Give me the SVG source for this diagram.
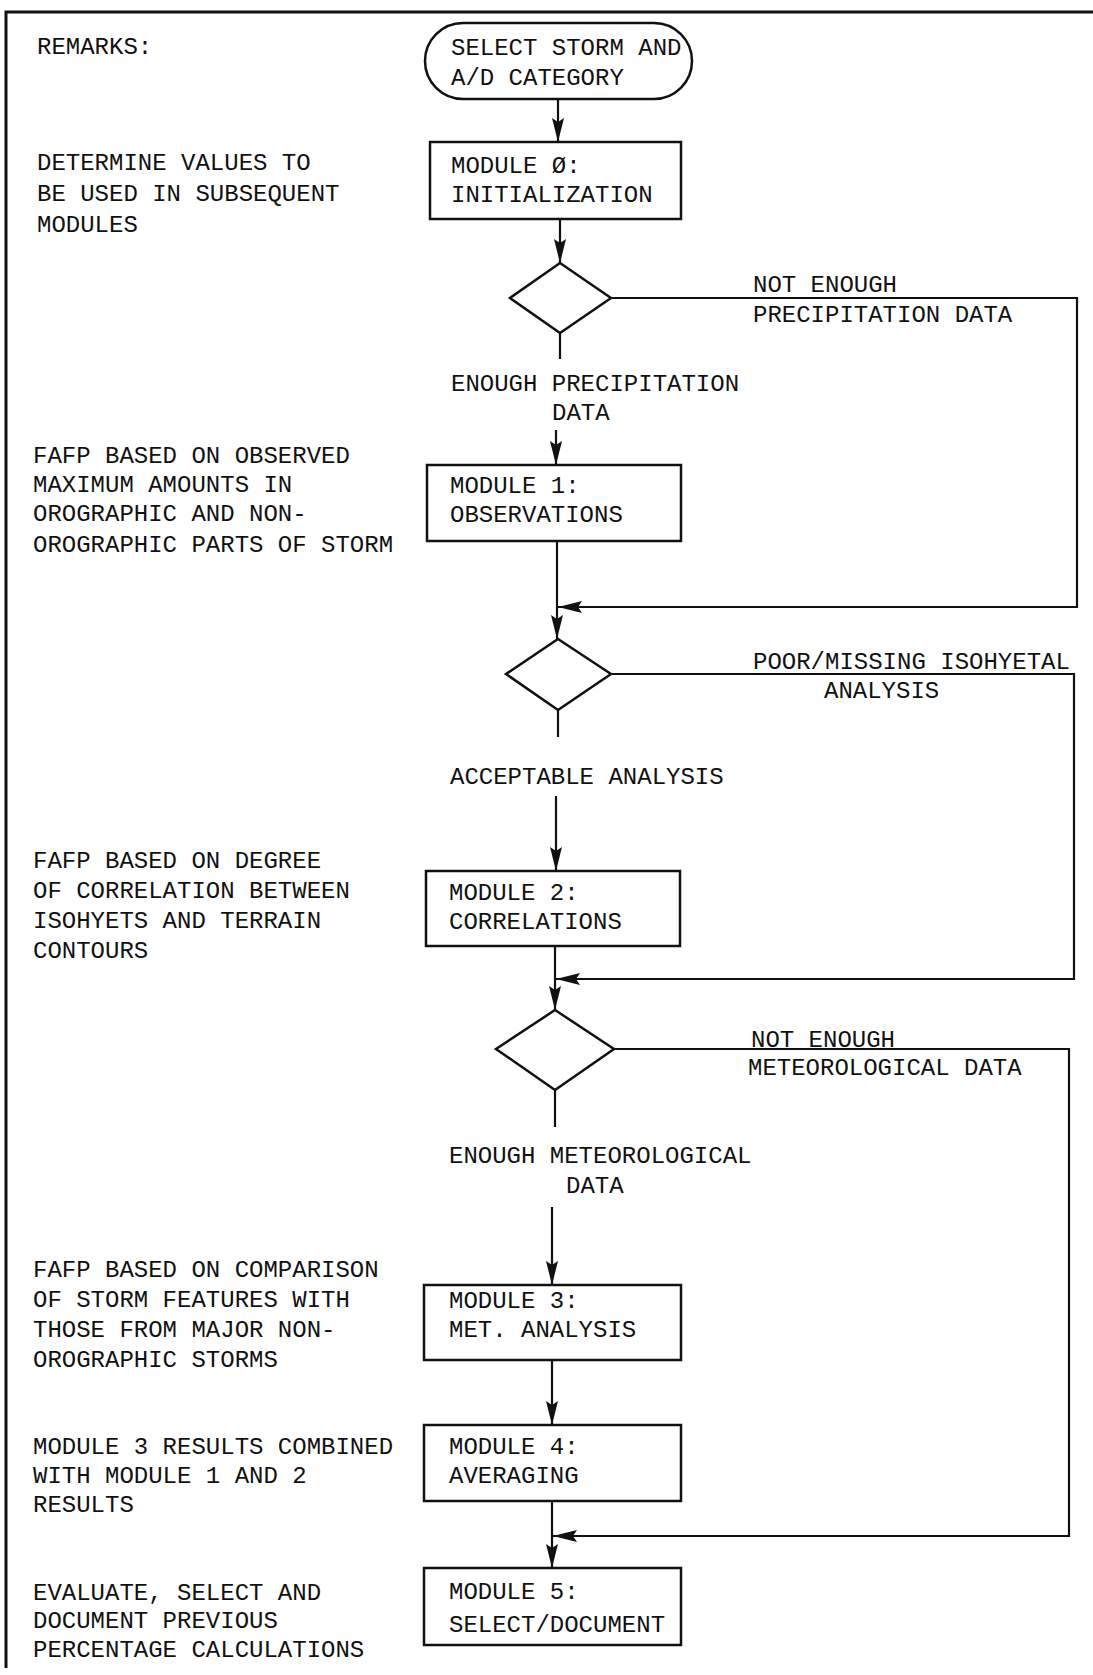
<svg xmlns="http://www.w3.org/2000/svg" width="1093" height="1675" viewBox="0 0 1093 1675">
<style>
  text { font-family: "Liberation Mono", "Courier New", monospace; font-size: 24px; fill: #111; }
  .box { fill: none; stroke: #111; stroke-width: 2.5; }
  .ln { fill: none; stroke: #111; stroke-width: 2.2; }
  .frame { fill: none; stroke: #111; stroke-width: 3; }
</style>
<defs>
  <marker id="arr" viewBox="-25 -7 26 14" refX="0" refY="0" markerWidth="26" markerHeight="14" markerUnits="userSpaceOnUse" orient="auto">
    <path d="M0,0 L-24,-6 L-20,0 L-24,6 Z" fill="#111"/>
  </marker>
</defs>
<rect width="1093" height="1675" fill="#fff"/>
<path class="frame" d="M6,1668 V12 H1093"/>

<g id="remarks">
  <text x="37" y="54">REMARKS:</text>
</g>
<g id="remark0">
  <text x="37" y="170">DETERMINE VALUES TO</text>
  <text x="37" y="201">BE USED IN SUBSEQUENT</text>
  <text x="37" y="232">MODULES</text>
</g>
<g id="remark1">
  <text x="33" y="463">FAFP BASED ON OBSERVED</text>
  <text x="33" y="492">MAXIMUM AMOUNTS IN</text>
  <text x="33" y="521">OROGRAPHIC AND NON-</text>
  <text x="33" y="552">OROGRAPHIC PARTS OF STORM</text>
</g>
<g id="remark2">
  <text x="33" y="868">FAFP BASED ON DEGREE</text>
  <text x="33" y="898">OF CORRELATION BETWEEN</text>
  <text x="33" y="928">ISOHYETS AND TERRAIN</text>
  <text x="33" y="958">CONTOURS</text>
</g>
<g id="remark3">
  <text x="33" y="1277">FAFP BASED ON COMPARISON</text>
  <text x="33" y="1307">OF STORM FEATURES WITH</text>
  <text x="33" y="1337">THOSE FROM MAJOR NON-</text>
  <text x="33" y="1367">OROGRAPHIC STORMS</text>
</g>
<g id="remark4">
  <text x="33" y="1454">MODULE 3 RESULTS COMBINED</text>
  <text x="33" y="1483">WITH MODULE 1 AND 2</text>
  <text x="33" y="1512">RESULTS</text>
</g>
<g id="remark5">
  <text x="33" y="1600">EVALUATE, SELECT AND</text>
  <text x="33" y="1628">DOCUMENT PREVIOUS</text>
  <text x="33" y="1657">PERCENTAGE CALCULATIONS</text>
</g>

<g id="start">
  <rect class="box" x="425" y="23" width="267" height="76" rx="38" ry="38"/>
  <text x="451" y="55">SELECT STORM AND</text>
  <text x="451" y="85">A/D CATEGORY</text>
</g>
<g id="module0">
  <rect class="box" x="430" y="142" width="251" height="77"/>
  <text x="451" y="173">MODULE Ø:</text>
  <text x="451" y="202">INITIALIZATION</text>
</g>
<g id="decision1">
  <polygon class="box" points="560,263 611,298 560,333 510,298"/>
</g>
<g id="module1">
  <rect class="box" x="427" y="465" width="254" height="76"/>
  <text x="450" y="493">MODULE 1:</text>
  <text x="450" y="522">OBSERVATIONS</text>
</g>
<g id="decision2">
  <polygon class="box" points="558,639 611,674 558,710 506,674"/>
</g>
<g id="module2">
  <rect class="box" x="426" y="871" width="254" height="75"/>
  <text x="449" y="900">MODULE 2:</text>
  <text x="449" y="929">CORRELATIONS</text>
</g>
<g id="decision3">
  <polygon class="box" points="555,1010 614,1049 555,1090 496,1049"/>
</g>
<g id="module3">
  <rect class="box" x="424" y="1285" width="257" height="75"/>
  <text x="449" y="1308">MODULE 3:</text>
  <text x="449" y="1337">MET. ANALYSIS</text>
</g>
<g id="module4">
  <rect class="box" x="424" y="1425" width="257" height="76"/>
  <text x="449" y="1454">MODULE 4:</text>
  <text x="449" y="1483">AVERAGING</text>
</g>
<g id="module5">
  <rect class="box" x="424" y="1568" width="257" height="77"/>
  <text x="449" y="1599">MODULE 5:</text>
  <text x="449" y="1632">SELECT/DOCUMENT</text>
</g>

<g id="connectors">
  <path class="ln" d="M558,99 V142" marker-end="url(#arr)"/>
  <path class="ln" d="M560,219 V263" marker-end="url(#arr)"/>
  <path class="ln" d="M611,298 H1077 V607 H558" marker-end="url(#arr)"/>
  <path class="ln" d="M560,333 V359"/>
  <path class="ln" d="M556,430 V465" marker-end="url(#arr)"/>
  <path class="ln" d="M557,541 V639" marker-end="url(#arr)"/>
  <path class="ln" d="M611,674 H1074 V979 H556" marker-end="url(#arr)"/>
  <path class="ln" d="M558,710 V737"/>
  <path class="ln" d="M556,796 V871" marker-end="url(#arr)"/>
  <path class="ln" d="M555,946 V1010" marker-end="url(#arr)"/>
  <path class="ln" d="M614,1049 H1069 V1536 H553" marker-end="url(#arr)"/>
  <path class="ln" d="M555,1090 V1127"/>
  <path class="ln" d="M552,1207 V1285" marker-end="url(#arr)"/>
  <path class="ln" d="M552,1360 V1425" marker-end="url(#arr)"/>
  <path class="ln" d="M552,1501 V1568" marker-end="url(#arr)"/>
</g>
<g id="connector-labels">
  <text x="753" y="292">NOT ENOUGH</text>
  <text x="753" y="322">PRECIPITATION DATA</text>
  <text x="451" y="391">ENOUGH PRECIPITATION</text>
  <text x="552" y="420">DATA</text>
  <text x="753" y="669">POOR/MISSING ISOHYETAL</text>
  <text x="824" y="698">ANALYSIS</text>
  <text x="450" y="784">ACCEPTABLE ANALYSIS</text>
  <text x="751" y="1047">NOT ENOUGH</text>
  <text x="748" y="1075">METEOROLOGICAL DATA</text>
  <text x="449" y="1163">ENOUGH METEOROLOGICAL</text>
  <text x="566" y="1193">DATA</text>
</g>
</svg>
